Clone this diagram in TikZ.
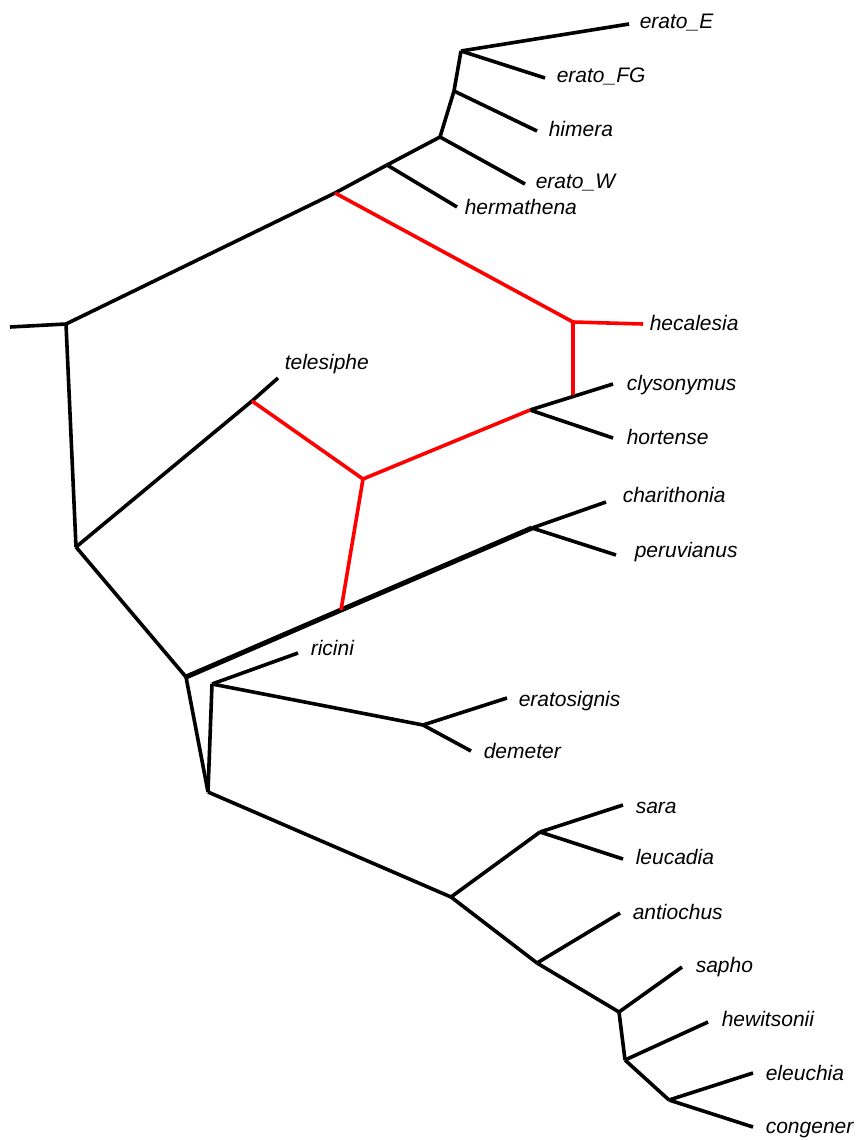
\documentclass[tikz,border=0pt]{standalone}
\usepackage{fontspec}
\setmainfont{Liberation Sans}
\usetikzlibrary{positioning}

\begin{document}
\begin{tikzpicture}[x=1pt, y=-1pt, line width=3.6pt, taxon/.style={anchor=west,inner sep=0pt,text height=15pt,text depth=4pt,font=\fontsize{21}{25}\selectfont\itshape}, hybrid/.style={color=red}, heavy/.style={line width=5pt}]%
\useasboundingbox (0,0) rectangle (860,1140);
% inner nodes
\begin{scope}
\coordinate (rootL) at (10,327);
\coordinate (n0) at (66,324);
\coordinate (nr1) at (335,193);
\coordinate (n1) at (387,165);
\coordinate (n2) at (440,137);
\coordinate (n3) at (454,91);
\coordinate (n4) at (461,51);
\coordinate (nr2) at (573,322);
\coordinate (nr3) at (573,395);
\coordinate (n5) at (530,410);
\coordinate (n6) at (76,547);
\coordinate (nr4) at (252,401);
\coordinate (nr5) at (363,479);
\coordinate (nr6) at (341,610);
\coordinate (n7) at (186,677);
\coordinate (n8) at (532,528);
\coordinate (n9) at (212,684);
\coordinate (n10) at (423,725);
\coordinate (n11) at (208,792);
\coordinate (n12) at (451,897);
\coordinate (n13) at (540,832);
\coordinate (n14) at (537,963);
\coordinate (n15) at (619,1012);
\coordinate (n16) at (625,1060);
\coordinate (n17) at (669,1100);
\end{scope}
% tips
\begin{scope}
\coordinate (eE) at (629,24);
\coordinate (eFG) at (545,78);
\coordinate (him) at (537,131);
\coordinate (eW) at (525,184);
\coordinate (her) at (457,207);
\coordinate (hec) at (643,324);
\coordinate (cly) at (613,384);
\coordinate (hor) at (613,438);
\coordinate (tel) at (278,378);
\coordinate (cha) at (606,502);
\coordinate (per) at (616,555);
\coordinate (ric) at (298,653);
\coordinate (ers) at (507,698);
\coordinate (dem) at (471,751);
\coordinate (sar) at (623,805);
\coordinate (leu) at (623,859);
\coordinate (ant) at (620,913);
\coordinate (sap) at (682,967);
\coordinate (hew) at (708,1022);
\coordinate (ele) at (753,1073);
\coordinate (con) at (753,1127);
\end{scope}
% labels
\begin{scope}[every node/.style={taxon}]
\node (LeE) at (638,23) {erato\_E};
\node (LeFG) at (555,77) {erato\_FG};
\node (Lhim) at (547,131) {himera};
\node (LeW) at (534,183) {erato\_W};
\node (Lher) at (463,209) {hermathena};
\node (Lhec) at (648,325) {hecalesia};
\node (Lcly) at (625,385) {clysonymus};
\node (Lhor) at (625,439) {hortense};
\node (Ltel) at (283,364) {telesiphe};
\node (Lcha) at (621,497) {charithonia};
\node (Lper) at (633,552) {peruvianus};
\node (Lric) at (309,650) {ricini};
\node (Lers) at (517,701) {eratosignis};
\node (Ldem) at (482,753) {demeter};
\node (Lsar) at (634,808) {sara};
\node (Lleu) at (634,859) {leucadia};
\node (Lant) at (631,914) {antiochus};
\node (Lsap) at (694,967) {sapho};
\node (Lhew) at (720,1021) {hewitsonii};
\node (Lele) at (764,1075) {eleuchia};
\node (Lcon) at (764,1128) {congener};
\end{scope}
% tree
\begin{scope}
\draw (rootL) edge (n0);
\draw (n0) edge (nr1);
\draw (nr1) edge (n1);
\draw (n1) edge (n2);
\draw (n1) edge (her);
\draw (n2) edge (eW);
\draw (n2) edge (n3);
\draw (n3) edge (him);
\draw (n3) edge (n4);
\draw (n4) edge (eE);
\draw (n4) edge (eFG);
\draw (n0) edge (n6);
\draw (n6) edge (nr4);
\draw (nr4) edge (tel);
\draw (n6) edge (n7);
\draw[heavy] (n7) edge (nr6);
\draw[heavy] (nr6) edge (n8);
\draw (n8) edge (cha);
\draw (n8) edge (per);
\draw (n5) edge (cly);
\draw (n5) edge (hor);
\draw (n7) edge (n11);
\draw (n9) edge (n11);
\draw (n9) edge (ric);
\draw (n9) edge (n10);
\draw (n10) edge (ers);
\draw (n10) edge (dem);
\draw (n11) edge (n12);
\draw (n12) edge (n13);
\draw (n13) edge (sar);
\draw (n13) edge (leu);
\draw (n12) edge (n14);
\draw (n14) edge (ant);
\draw (n14) edge (n15);
\draw (n15) edge (sap);
\draw (n15) edge (n16);
\draw (n16) edge (hew);
\draw (n16) edge (n17);
\draw (n17) edge (ele);
\draw (n17) edge (con);
\end{scope}
% reticulations
\begin{scope}[hybrid]
\draw (nr1) edge (nr2);
\draw (nr2) edge (hec);
\draw (nr2) edge (nr3);
\draw (nr4) edge (nr5);
\draw (nr5) edge (n5);
\draw (nr5) edge (nr6);
\end{scope}
\end{tikzpicture}
\end{document}
